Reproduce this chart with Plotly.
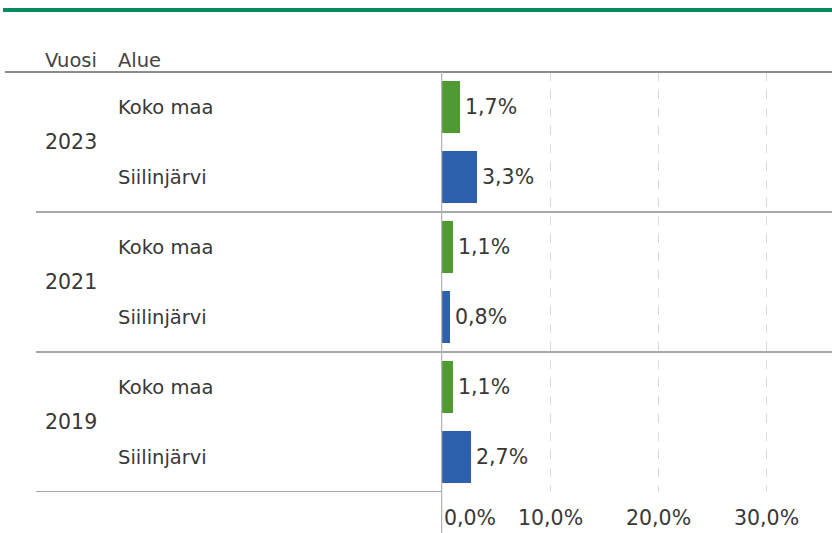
import plotly.graph_objects as go

years = ["2023", "2021", "2019"]
regions = ["Koko maa", "Siilinjärvi"]
koko_maa = [1.7, 1.1, 1.1]
siilinjarvi = [3.3, 0.8, 2.7]
tick_values = [0, 10, 20, 30]
colors = {"Koko maa": "#4f9a32", "Siilinjärvi": "#2f60ae"}

FONT = "DejaVu Sans"
FS_TXT = 19.5
FS_NUM = 20.5
TXT = "#383838"

W, H = 832, 533
TOP, BOTTOM = 72, 492

rows_y, rows_x, rows_c = [], [], []
for i, yr in enumerate(years):
    for j, reg in enumerate(regions):
        v = koko_maa[i] if reg == "Koko maa" else siilinjarvi[i]
        rows_y.append(i * 2 + j)
        rows_x.append(v)
        rows_c.append(colors[reg])

fig = go.Figure()
fig.add_trace(go.Bar(
    x=rows_x, y=rows_y, orientation="h", width=0.74,
    marker=dict(color=rows_c, line=dict(width=0)),
    texttemplate="\u200a%{x:.1f}%", textposition="outside",
    textfont=dict(family=FONT, size=FS_NUM, color=TXT),
    cliponaxis=False, hoverinfo="skip",
))

def py(pix):
    return (BOTTOM - pix) / (BOTTOM - TOP)

annotations = []
for label, xpix in [("Vuosi", 43), ("Alue", 116)]:
    annotations.append(dict(x=xpix / W, y=py(60), xref="paper", yref="paper", text=label,
                            showarrow=False, xanchor="left", yanchor="middle",
                            font=dict(family=FONT, size=FS_TXT, color="#444")))
for i, yr in enumerate(years):
    annotations.append(dict(x=43 / W, y=i * 2 + 0.5, xref="paper", yref="y", text=yr,
                            showarrow=False, xanchor="left", yanchor="middle",
                            font=dict(family=FONT, size=FS_NUM, color=TXT)))
    for j, reg in enumerate(regions):
        annotations.append(dict(x=116 / W, y=i * 2 + j, xref="paper", yref="y", text=reg,
                                showarrow=False, xanchor="left", yanchor="middle",
                                font=dict(family=FONT, size=FS_TXT, color=TXT)))
for k, tv in enumerate(tick_values):
    annotations.append(dict(x=tv, y=py(518), xref="x", yref="paper",
                            text=f"{tv:.1f}%".replace(".", ","),
                            showarrow=False, xanchor="left" if k == 0 else "center",
                            yanchor="middle",
                            font=dict(family=FONT, size=FS_NUM, color=TXT)))

shapes = []
shapes.append(dict(type="line", xref="paper", yref="paper", x0=3 / W, x1=1,
                   y0=py(10), y1=py(10), line=dict(color="#0a8a5e", width=4)))
shapes.append(dict(type="line", xref="paper", yref="paper", x0=5 / W, x1=1,
                   y0=1, y1=1, line=dict(color="#8c8c8c", width=2)))
for b in [1.5, 3.5]:
    shapes.append(dict(type="line", xref="paper", yref="y", x0=36 / W, x1=1,
                       y0=b, y1=b, line=dict(color="#a8a8a8", width=2)))
shapes.append(dict(type="line", xref="paper", yref="y", x0=36 / W, x1=441 / W,
                   y0=5.5, y1=5.5, line=dict(color="#a8a8a8", width=2)))
shapes.append(dict(type="line", xref="x", yref="paper", x0=0, x1=0,
                   y0=1, y1=py(533), line=dict(color="#b5b5b5", width=1.5)))

fig.update_layout(
    width=W, height=H,
    margin=dict(l=0, r=0, t=TOP, b=H - BOTTOM, pad=0),
    paper_bgcolor="white", plot_bgcolor="white",
    separators=", ",
    showlegend=False,
    bargap=0,
    xaxis=dict(domain=[441 / W, 1], range=[-0.05, 36], showticklabels=False,
               tickvals=tick_values[1:], showgrid=True, gridcolor="#d9d9d9",
               griddash="dash", gridwidth=1, zeroline=False, showline=False,
               ticks="", fixedrange=True),
    yaxis=dict(range=[5.5, -0.5], showticklabels=False, showgrid=False,
               zeroline=False, showline=False, ticks="", fixedrange=True),
    annotations=annotations,
    shapes=shapes,
)

fig.write_html("out.html", config={"displayModeBar": False},
               post_script="document.body.style.margin='0';")
